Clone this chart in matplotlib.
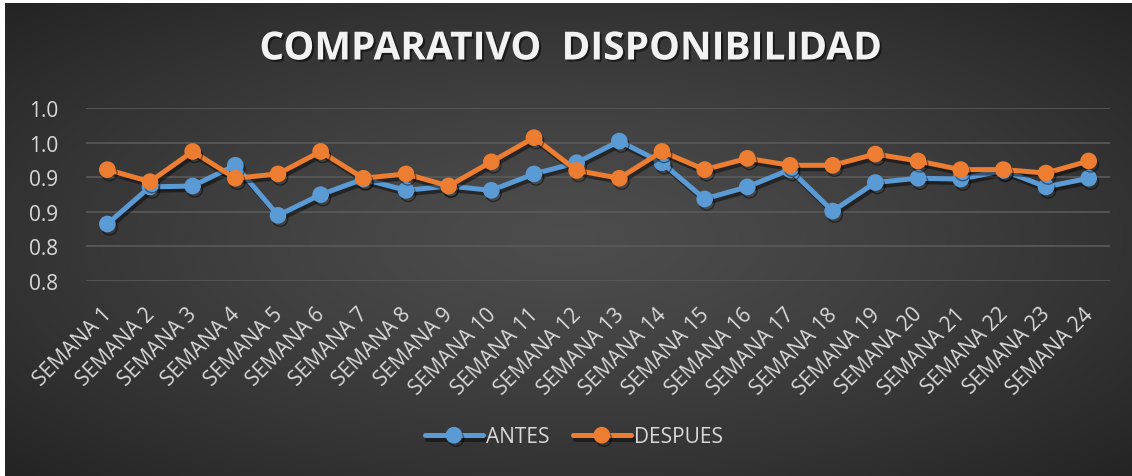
import numpy as np
import matplotlib
matplotlib.use("Agg")
import matplotlib.pyplot as plt
import matplotlib.patheffects as pe
import matplotlib.transforms as mtrans
from matplotlib.ticker import FormatStrFormatter

semanas = [f"SEMANA {i}" for i in range(1, 25)]
antes = [0.866, 0.909, 0.910, 0.934, 0.876, 0.900, 0.918, 0.905, 0.910, 0.905, 0.924, 0.937,
         0.962, 0.937, 0.895, 0.909, 0.929, 0.881, 0.914, 0.919, 0.918, 0.928, 0.909, 0.919]
despues = [0.929, 0.915, 0.950, 0.919, 0.924, 0.950, 0.919, 0.924, 0.910, 0.938, 0.966, 0.928,
           0.919, 0.950, 0.929, 0.942, 0.934, 0.934, 0.947, 0.939, 0.929, 0.929, 0.925, 0.939]
y_ticks = [0.80, 0.84, 0.88, 0.92, 0.96, 1.00]

BLUE = '#5B9BD5'
ORANGE = '#ED7D31'
TXT = '#D9D9D9'
W, H = 1132, 477

plt.rcParams['font.family'] = ['Open Sans', 'DejaVu Sans']

fig = plt.figure(figsize=(W / 100, H / 100), dpi=100)
fig.patch.set_facecolor('white')

# radial gradient background
bg = fig.add_axes([5 / W, 0, 1 - 5 / W, 1 - 4 / H], zorder=-10)
xx, yy = np.meshgrid(np.linspace(-1, 1, 400), np.linspace(-1, 1, 200))
r = np.sqrt(xx ** 2 + yy ** 2) / np.sqrt(2)
grad = np.clip(0.30 - 0.16 * r ** 1.3, 0, 1)
bg.imshow(np.dstack([grad, grad, grad]), aspect='auto', extent=[0, 1, 0, 1], interpolation='bilinear')
bg.set_axis_off()

ax = fig.add_axes([86 / W, 1 - 282 / H, (1110 - 86) / W, (282 - 109.3) / H])
ax.set_facecolor('none')
x = np.arange(len(semanas))

shadow = [pe.SimpleLineShadow(offset=(1.5, -2.5), shadow_color='black', alpha=0.45), pe.Normal()]
ax.plot(x, antes, color=BLUE, lw=3.6, marker='o', ms=11, label='ANTES',
        path_effects=shadow, zorder=3, solid_capstyle='round')
ax.plot(x, despues, color=ORANGE, lw=3.6, marker='o', ms=11, label='DESPUES',
        path_effects=shadow, zorder=4, solid_capstyle='round')

ax.set_xlim(-0.5, len(semanas) - 0.5)
ax.set_ylim(0.80, 1.00)
ax.set_yticks(y_ticks)
ax.yaxis.set_major_formatter(FormatStrFormatter('%.1f'))
ax.grid(axis='y', color='#5A5A5A', lw=1.2)
ax.set_axisbelow(True)
for s in ax.spines.values():
    s.set_visible(False)
ax.tick_params(axis='both', length=0, colors=TXT)
ax.tick_params(axis='y', pad=20, labelsize=15)
ax.set_xticks(x)
ax.set_xticklabels(semanas, rotation=45, ha='right', rotation_mode='anchor', fontsize=15)
ax.tick_params(axis='x', pad=16)
shift = mtrans.ScaledTranslation(-6 / 100, 0, fig.dpi_scale_trans)
for lbl in ax.get_xticklabels():
    lbl.set_transform(lbl.get_transform() + shift)

fig.text(0.504, 1 - 50 / H, 'COMPARATIVO  DISPONIBILIDAD', ha='center', va='center',
         color='#F2F2F2', fontsize=28, fontweight='bold',
         path_effects=[pe.withSimplePatchShadow(offset=(1.5, -1.5), shadow_rgbFace='black', alpha=0.5)])

leg = fig.legend(loc='center', bbox_to_anchor=(0.507, 1 - 438 / H), ncol=2, frameon=False,
                 fontsize=15, handlelength=2.8, columnspacing=1.1, handletextpad=0.15,
                 labelcolor=TXT)

fig.savefig('out.png', dpi=100)
